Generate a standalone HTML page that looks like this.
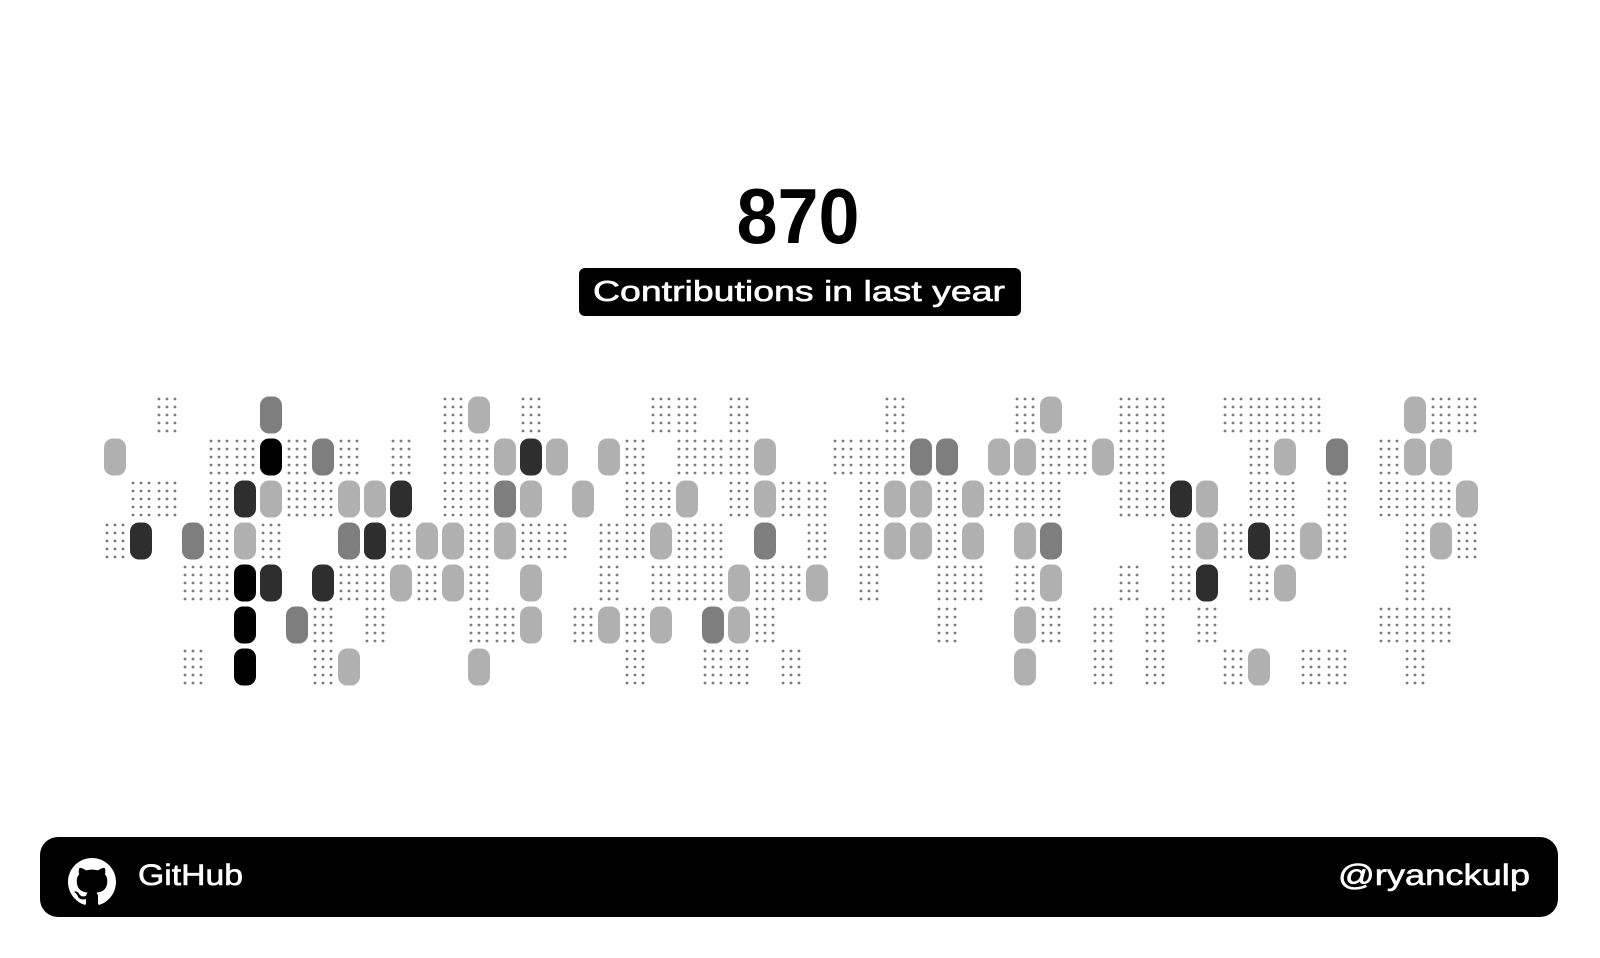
<!DOCTYPE html>
<html><head><meta charset="utf-8"><title>GitHub contributions</title>
<style>
html,body{margin:0;padding:0;background:#fff;}
svg{display:block;}
text{font-family:"Liberation Sans",sans-serif;}
</style></head>
<body>
<svg id="card" width="1600" height="958" viewBox="0 0 1600 958" xmlns="http://www.w3.org/2000/svg">
  <rect x="0" y="0" width="1600" height="958" fill="#fff"/>
  <text x="798" y="243" text-anchor="middle" font-size="78" font-weight="bold" fill="#000" textLength="123" lengthAdjust="spacingAndGlyphs">870</text>
  <g>
    <rect x="579" y="268" width="442" height="48" rx="6" fill="#000"/>
    <text x="593" y="301" font-size="29" fill="#fff" stroke="#fff" stroke-width="0.6" textLength="412" lengthAdjust="spacingAndGlyphs">Contributions in last year</text>
  </g>
  <g id="grid"></g>
  <g>
    <rect x="40" y="837" width="1518" height="80" rx="18" fill="#000"/>
    <g transform="translate(68,858) scale(3)">
      <path fill="#fff" d="M8 0C3.58 0 0 3.58 0 8c0 3.54 2.29 6.53 5.47 7.590.4.07.55-.17.55-.38 0-.19-.01-.82-.01-1.49-2.01.37-2.53-.49-2.69-.94-.09-.23-.48-.94-.82-1.13-.28-.15-.68-.52-.01-.53.63-.01 1.08.58 1.23.82.72 1.21 1.87.87 2.33.66.07-.52.28-.87.51-1.07-1.78-.2-3.64-.89-3.64-3.95 0-.87.31-1.59.82-2.15-.08-.2-.36-1.02.08-2.12 0 0 .67-.21 2.2.82.64-.18 1.32-.27 2-.27.68 0 1.36.09 2 .27 1.53-1.04 2.2-.82 2.2-.82.44 1.1.16 1.92.08 2.12.51.56.82 1.27.82 2.15 0 3.07-1.87 3.75-3.65 3.95.29.25.54.73.54 1.48 0 1.07-.01 1.93-.01 2.2 0 .21.15.46.55.38A8.013 8.013 0 0016 8c0-4.42-3.58-8-8-8z"/>
    </g>
    <text x="138" y="885" font-size="30" fill="#fff" stroke="#fff" stroke-width="0.6" textLength="105" lengthAdjust="spacingAndGlyphs">GitHub</text>
    <text x="1530" y="885" font-size="30" fill="#fff" stroke="#fff" stroke-width="0.6" text-anchor="end" textLength="192" lengthAdjust="spacingAndGlyphs">@ryanckulp</text>
  </g>
</svg>
<script>
// contribution levels per weekday row (0 = none, 1 = zero-contribution dots, 2..5 = intensity), 53 weeks each
const row0 = [0,0,1,0,0,0,3,0,0,0, 0,0,0,1,2,0,1,0,0,0, 0,1,1,0,1,0,0,0,0,0, 1,0,0,0,0,1,2,0,0,1, 1,0,0,1,1,1,1,0,0,0, 2,1,1];
const row1 = [2,0,0,0,1,1,5,1,3,1, 0,1,0,1,1,2,4,2,0,2, 1,0,1,1,1,2,0,0,1,1, 1,3,3,0,2,2,1,1,2,1, 1,0,0,0,1,2,0,3,0,1, 2,2,0];
const row2 = [0,1,1,0,1,4,2,1,1,2, 2,4,0,1,1,3,2,0,2,0, 1,1,2,0,1,2,1,1,0,1, 2,2,1,2,1,1,1,0,0,1, 1,4,2,0,1,1,0,1,0,1, 1,1,2];
const row3 = [1,4,0,3,1,2,1,0,0,3, 4,1,2,2,1,2,1,1,0,1, 1,2,1,1,0,3,0,1,0,1, 2,2,1,2,0,2,3,0,0,0, 0,1,2,1,4,1,2,1,0,0, 1,2,1];
const row4 = [0,0,0,1,1,5,4,0,4,1, 1,2,1,2,1,0,2,0,0,1, 0,1,1,1,2,1,1,2,0,1, 0,0,1,1,0,1,2,0,0,1, 0,1,4,0,1,2,0,0,0,0, 1,0,0];
const row5 = [0,0,0,0,0,5,0,3,1,0, 1,0,0,0,1,1,2,0,1,2, 1,2,0,3,2,1,0,0,0,0, 0,0,1,0,0,2,1,0,1,0, 1,0,1,0,0,0,0,0,0,1, 1,1,0];
const row6 = [0,0,0,1,0,5,0,0,1,2, 0,0,0,0,2,0,0,0,0,0, 1,0,0,1,1,0,1,0,0,0, 0,0,0,0,0,2,0,0,1,0, 1,0,0,1,2,0,1,1,0,0, 1,0,0];
const rows = [row0,row1,row2,row3,row4,row5,row6];

const NS = 'http://www.w3.org/2000/svg';
const levelFill = {2:'#b0b0b0',3:'#7e7e7e',4:'#2e2e2e',5:'#000'};
function xOf(week){ return 115 + 26*week; }
function yOf(day){ return 415 + 42*day; }
const grid = document.getElementById('grid');
rows.forEach(function(row, d){
  row.forEach(function(v, w){
    if(!v) return;
    const cx = xOf(w), cy = yOf(d);
    if(v === 1){
      const g = document.createElementNS(NS,'g');
      
      
      for(let i=-1;i<=1;i++){ for(let j=-2;j<=2;j++){
        const c = document.createElementNS(NS,'circle');
        c.setAttribute('cx', cx + 8*i);
        c.setAttribute('cy', cy + 8*j);
        c.setAttribute('r', 1.4);
        c.setAttribute('fill', '#7a7a7a');
        g.appendChild(c);
      }}
      grid.appendChild(g);
    } else {
      const r = document.createElementNS(NS,'rect');
      
      
      r.setAttribute('x', cx - 11);
      r.setAttribute('y', cy - 18.5);
      r.setAttribute('width', 22);
      r.setAttribute('height', 37);
      r.setAttribute('rx', 9);
      r.setAttribute('fill', levelFill[v]);
      grid.appendChild(r);
    }
  });
});
</script>
</body></html>
